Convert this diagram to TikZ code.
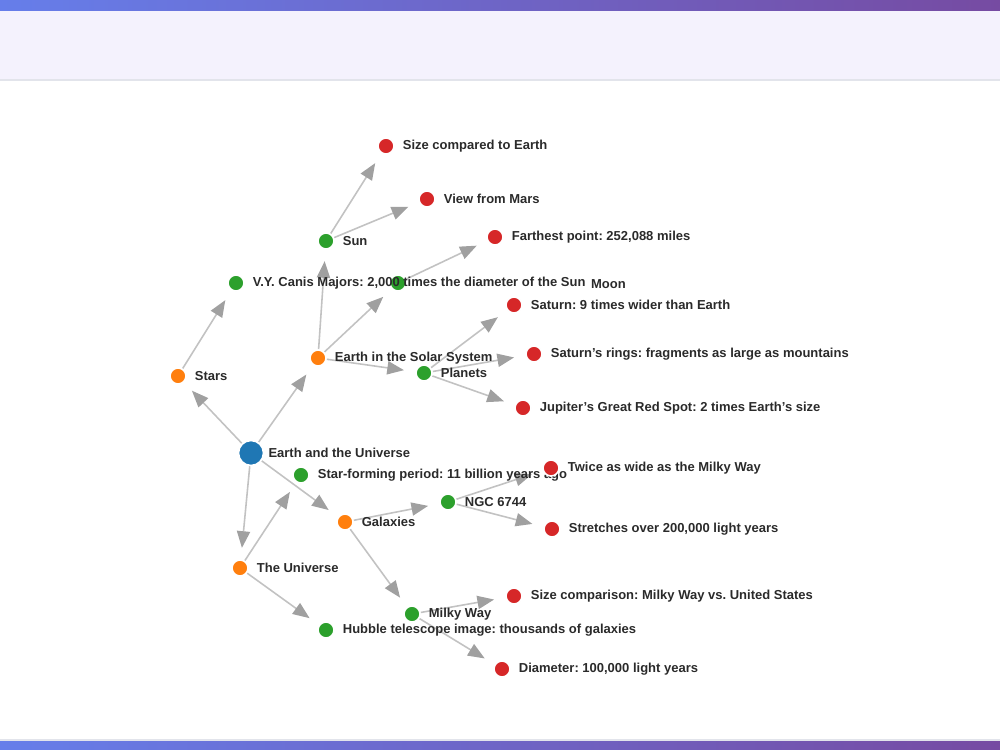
\documentclass[tikz,border=0pt]{standalone}
\usepackage{fontspec}
\setsansfont{Liberation Sans}
\usepackage{xcolor}
\usepackage{tikz}
\usetikzlibrary{arrows.meta}
\frenchspacing

\definecolor{barL}{HTML}{667EEA}
\definecolor{barR}{HTML}{764BA2}
\definecolor{headbg}{HTML}{F4F2FD}
\definecolor{headline}{HTML}{E2E4EB}
\definecolor{nblue}{HTML}{1F77B4}
\definecolor{norange}{HTML}{FF7F0E}
\definecolor{ngreen}{HTML}{2CA02C}
\definecolor{nred}{HTML}{D62728}
\definecolor{edgecol}{HTML}{C2C2C2}
\definecolor{tipcol}{HTML}{A0A0A0}
\definecolor{lbltext}{HTML}{2A2A2A}

\pgfdeclarelayer{bg}
\pgfdeclarelayer{edges}
\pgfsetlayers{bg,edges,main}

\begin{document}
\begin{tikzpicture}[
  x=0.02cm, y=-0.02cm,
  label distance=3.4pt,
  lbl/.style={font=\sffamily\bfseries\fontsize{7.4}{9}\selectfont, text=lbltext, inner sep=1pt},
  every label/.style={lbl},
  dot/.style={circle, draw=white, line width=0.9pt, minimum size=0.32cm, inner sep=0pt},
  hub/.style={dot, fill=nblue, minimum size=0.5cm},
  topic/.style={dot, fill=norange},
  sub/.style={dot, fill=ngreen},
  leaf/.style={dot, fill=nred},
  link/.style={draw=edgecol, line width=0.9pt, shorten >=6.5pt,
               -{Triangle[length=9.5pt, width=7.5pt, color=tipcol]}}
]
\useasboundingbox (0,0) rectangle (1000,750);

% page frame: top bar, header band, bottom bar
\begin{pgfonlayer}{bg}
  \shade[left color=barL, right color=barR] (0,0) rectangle (1000,11);
  \fill[headbg] (0,11) rectangle (1000,80);
  \draw[headline, line width=1.2pt] (0,80) -- (1000,80);
  \draw[headline, line width=1.2pt] (0,740) -- (1000,740);
  \shade[left color=barL, right color=barR] (0,741) rectangle (1000,750);
\end{pgfonlayer}

% root and first level
\node[hub, label={[xshift=-2.2pt]right:Earth and the Universe}] (root) at (251,453) {};
\node[topic, label=right:Stars] (stars) at (178,376) {};
\node[topic, label=right:Earth in the Solar System] (solar) at (318,358) {};
\node[topic, label=right:The Universe] (universe) at (240,568) {};
\node[topic, label=right:Galaxies] (galaxies) at (345,522) {};

% second level (moon sits under the long Canis Majoris text)
\node[sub] (moon) at (398,283) {};
\node[lbl, anchor=west] (moonlbl) at (589,284) {Moon};
\node[sub, label=right:{V.Y. Canis Majors: 2,000 times the diameter of the Sun}] (vycanis) at (236,283) {};
\node[sub, label=right:Sun] (sun) at (326,241) {};
\node[sub, label=right:Planets] (planets) at (424,373) {};
\node[sub, label=right:{Star-forming period: 11 billion years ago}] (starform) at (301,475) {};
\node[sub, label=right:{Hubble telescope image: thousands of galaxies}] (hubble) at (326,630) {};
\node[sub, label=right:NGC 6744] (ngc) at (448,502) {};
\node[sub, label=right:Milky Way] (milkyway) at (412,614) {};

% leaves
\node[leaf, label=right:Size compared to Earth] (sizeearth) at (386,146) {};
\node[leaf, label=right:View from Mars] (viewmars) at (427,199) {};
\node[leaf, label=right:{Farthest point: 252,088 miles}] (farthest) at (495,237) {};
\node[leaf, label=right:{Saturn: 9 times wider than Earth}] (saturn) at (514,305) {};
\node[leaf, label=right:{Saturn's rings: fragments as large as mountains}] (rings) at (534,354) {};
\node[leaf, label=right:{Jupiter's Great Red Spot: 2 times Earth's size}] (jupiter) at (523,408) {};
\node[leaf, label=right:Twice as wide as the Milky Way] (twice) at (551,468) {};
\node[leaf, label=right:{Stretches over 200,000 light years}] (stretches) at (552,529) {};
\node[leaf, label=right:{Size comparison: Milky Way vs. United States}] (sizeus) at (514,596) {};
\node[leaf, label=right:{Diameter: 100,000 light years}] (diameter) at (502,669) {};

% connectors
\begin{pgfonlayer}{edges}
  \draw[link] (root) -- (stars);
  \draw[link] (root) -- (solar);
  \draw[link] (root) -- (universe);
  \draw[link] (root) -- (galaxies);
  \draw[link] (stars) -- (vycanis);
  \draw[link] (solar) -- (sun);
  \draw[link] (solar) -- (moon);
  \draw[link] (solar) -- (planets);
  \draw[link] (sun) -- (sizeearth);
  \draw[link] (sun) -- (viewmars);
  \draw[link] (moon) -- (farthest);
  \draw[link] (planets) -- (saturn);
  \draw[link] (planets) -- (rings);
  \draw[link] (planets) -- (jupiter);
  \draw[link] (universe) -- (starform);
  \draw[link] (universe) -- (hubble);
  \draw[link] (galaxies) -- (ngc);
  \draw[link] (galaxies) -- (milkyway);
  \draw[link] (ngc) -- (twice);
  \draw[link] (ngc) -- (stretches);
  \draw[link] (milkyway) -- (sizeus);
  \draw[link] (milkyway) -- (diameter);
\end{pgfonlayer}

\end{tikzpicture}
\end{document}
